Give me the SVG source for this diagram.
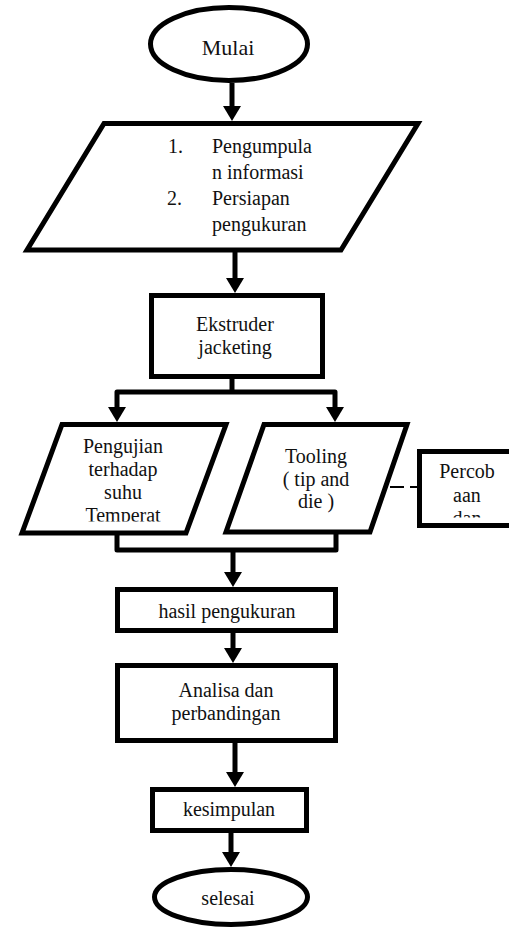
<svg xmlns="http://www.w3.org/2000/svg" width="509" height="928" viewBox="0 0 509 928">
<style>
.shape{fill:#fff;stroke:#000;stroke-width:5;stroke-linejoin:miter}
.t{font-family:"Liberation Serif","Times New Roman",serif;font-size:20px;fill:#111}
.c{text-anchor:middle}
.conn{fill:none;stroke:#000;stroke-width:5;stroke-linejoin:round}
.dash{fill:none;stroke:#000;stroke-width:2;stroke-dasharray:14 6}
</style>
<defs>
<marker id="arr" viewBox="0 0 15 18" refX="5" refY="9" markerWidth="15" markerHeight="18" markerUnits="userSpaceOnUse" orient="auto">
<path d="M0,0 L15,9 L0,18 Z" fill="#000"/>
</marker>
<clipPath id="clipPeng"><rect x="0" y="428" width="260" height="93.5"/></clipPath>
<clipPath id="clipPerc"><rect x="400" y="455" width="109" height="62.5"/></clipPath>
</defs>
<rect width="509" height="928" fill="#fff"/>

<g id="connectors">
<path class="conn" d="M232,83 V111" marker-end="url(#arr)"/>
<path class="conn" d="M235,250 V283" marker-end="url(#arr)"/>
<path class="conn" d="M232,379 V392"/>
<path class="conn" d="M232,392 H117 V412" marker-end="url(#arr)"/>
<path class="conn" d="M232,392 H335 V412" marker-end="url(#arr)"/>
<path class="conn" d="M117,533 V550 H336 V532"/>
<path class="conn" d="M233,550 V577" marker-end="url(#arr)"/>
<path class="conn" d="M233,633 V653" marker-end="url(#arr)"/>
<path class="conn" d="M235,743 V777" marker-end="url(#arr)"/>
<path class="conn" d="M231,833 V857" marker-end="url(#arr)"/>
<path class="dash" d="M390,487 H418"/>
</g>

<g id="mulai">
<ellipse class="shape" cx="229" cy="44" rx="78.5" ry="36.5"/>
<text class="t c" x="228" y="55" style="font-size:22px">Mulai</text>
</g>

<g id="persiapan">
<polygon class="shape" points="104,123.5 418,123.5 341,250 27,250"/>
<text class="t" x="168" y="153">1.</text>
<text class="t" x="212" y="153">Pengumpula</text>
<text class="t" x="212" y="179">n informasi</text>
<text class="t" x="167" y="205">2.</text>
<text class="t" x="212" y="205">Persiapan</text>
<text class="t" x="212" y="231">pengukuran</text>
</g>

<g id="ekstruder">
<rect class="shape" x="151.5" y="295.5" width="171" height="81"/>
<text class="t c" x="235" y="331">Ekstruder</text>
<text class="t c" x="235" y="354">jacketing</text>
</g>

<g id="pengujian">
<polygon class="shape" points="62,424.5 226,424.5 186,533 22,533"/>
<g clip-path="url(#clipPeng)">
<text class="t c" x="123" y="453">Pengujian</text>
<text class="t c" x="123" y="476">terhadap</text>
<text class="t c" x="123" y="499">suhu</text>
<text class="t c" x="123" y="522">Temperat</text>
</g>
</g>

<g id="tooling">
<polygon class="shape" points="264,424.5 407,424.5 370,532 226,532"/>
<text class="t c" x="316" y="463">Tooling</text>
<text class="t c" x="316" y="486">( tip and</text>
<text class="t c" x="316" y="508">die )</text>
</g>

<g id="percobaan">
<rect class="shape" x="419.5" y="451.5" width="96" height="74"/>
<g clip-path="url(#clipPerc)">
<text class="t c" x="467" y="478">Percob</text>
<text class="t c" x="467" y="502">aan</text>
<text class="t c" x="467" y="525">dan</text>
</g>
</g>

<g id="hasil">
<rect class="shape" x="117.5" y="589.5" width="218" height="41"/>
<text class="t c" x="227" y="618">hasil pengukuran</text>
</g>

<g id="analisa">
<rect class="shape" x="117.5" y="665.5" width="218" height="75"/>
<text class="t c" x="226" y="697">Analisa dan</text>
<text class="t c" x="226" y="720">perbandingan</text>
</g>

<g id="kesimpulan">
<rect class="shape" x="152.5" y="789.5" width="154" height="41"/>
<text class="t c" x="229" y="816">kesimpulan</text>
</g>

<g id="selesai">
<ellipse class="shape" cx="231" cy="897" rx="76.5" ry="27.5"/>
<text class="t c" x="228" y="905">selesai</text>
</g>
</svg>
